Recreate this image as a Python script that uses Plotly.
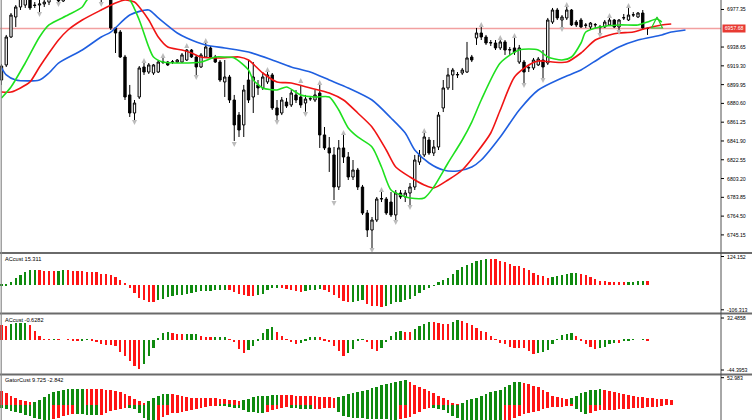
import plotly.graph_objects as go

# ---------------- data ----------------
bar_open = [6904.7,6920.2,6949.0,6969.6,6979.9,6981.9,6992.3,6981.9,6981.9,6983.0,
            6985.0,6992.3,6989.2,6986.1,6993.0,7000.0,7006.0,7003.0,7008.0,7004.0,
            6995.0,6989.2,6995.0,6990.2,6958.3,6954.1,6928.4,6889.3,6870.7,6887.2,
            6918.1,6912.9,6911.9,6912.9,6923.2,6923.2,6923.0,6923.2,6923.2,6925.3,
            6935.6,6928.4,6918.1,6928.4,6937.7,6928.4,6923.2,6902.7,6907.8,6884.1,
            6868.6,6858.4,6904.7,6887.2,6899.6,6896.5,6902.7,6909.9,6875.9,6870.7,
            6882.0,6879.0,6889.3,6887.2,6881.0,6885.1,6884.1,6891.3,6848.1,6834.7,
            6827.5,6794.5,6834.7,6825.4,6804.8,6812.0,6794.5,6767.7,6750.2,6760.5,
            6782.1,6782.1,6779.0,6765.7,6788.3,6784.2,6788.3,6794.5,6820.2,6827.5,
            6842.9,6829.5,6835.7,6875.9,6896.5,6909.9,6909.9,6911.9,6912.9,6928.4,
            6948.0,6953.1,6949.0,6942.8,6942.8,6937.7,6943.9,6935.6,6937.7,6923.2,
            6923.2,6917.1,6917.1,6920.2,6925.3,6922.2,6964.4,6976.8,6966.5,6968.6,
            6976.8,6964.4,6966.5,6961.4,6959.3,6961.4,6959.3,6959.3,6961.4,6966.5,
            6959.3,6968.6,6966.5,6971.6,6969.6,6973.7,6958.0]
bar_high = [6921.2,6951.1,6973.7,6981.9,6997.4,6997.4,6997.4,6985.0,6987.1,6992.3,
            6997.4,6999.5,6995.3,6997.4,7005.0,7010.0,7012.0,7010.0,7014.0,7008.0,
            7000.0,6998.0,7001.0,6995.3,6959.3,6956.2,6930.5,6899.6,6884.1,6919.1,
            6922.2,6922.2,6921.2,6925.3,6927.4,6924.3,6925.3,6926.3,6932.5,6936.6,
            6936.6,6930.5,6932.5,6942.8,6939.7,6930.5,6925.3,6925.3,6909.9,6889.3,
            6871.7,6899.6,6925.3,6923.2,6904.7,6912.9,6912.9,6911.9,6884.1,6887.2,
            6886.2,6894.4,6894.4,6899.6,6889.3,6888.2,6894.4,6899.6,6856.3,6846.0,
            6835.7,6842.9,6848.1,6830.5,6822.3,6814.1,6796.6,6770.8,6763.6,6784.2,
            6789.3,6784.2,6789.3,6791.4,6791.4,6791.4,6798.6,6827.5,6832.6,6851.2,
            6846.0,6842.9,6871.7,6904.7,6917.1,6917.1,6912.9,6917.1,6943.9,6930.5,
            6958.3,6959.3,6951.1,6945.9,6945.9,6945.9,6945.9,6938.7,6948.0,6940.8,
            6925.3,6920.2,6927.4,6928.4,6935.6,6968.6,6978.9,6978.9,6971.6,6981.0,
            6977.8,6966.5,6968.6,6963.4,6964.4,6963.4,6961.4,6966.5,6969.6,6967.5,
            6967.5,6972.7,6978.9,6974.7,6974.7,6976.8,6958.6]
bar_low = [6899.6,6918.1,6948.0,6959.3,6976.8,6978.9,6976.8,6978.9,6974.7,6979.9,
           6981.9,6987.1,6985.0,6985.0,6990.0,6995.0,7000.0,6998.0,7000.0,6992.0,
           6988.0,6984.0,6988.5,6956.2,6932.5,6927.4,6884.1,6866.6,6863.5,6885.1,
           6909.9,6910.9,6909.9,6911.9,6921.2,6919.1,6921.2,6922.2,6922.2,6924.3,
           6927.4,6908.8,6917.1,6927.4,6927.4,6922.2,6902.7,6887.2,6881.0,6841.9,
           6846.0,6846.0,6881.0,6870.7,6889.3,6894.4,6900.6,6873.8,6863.5,6868.6,
           6875.9,6876.9,6881.0,6876.0,6872.0,6883.1,6882.0,6834.7,6832.6,6810.0,
           6781.1,6791.4,6819.2,6801.7,6801.7,6791.4,6765.7,6743.0,6729.6,6758.4,
           6779.0,6765.7,6763.6,6760.5,6782.1,6779.0,6775.9,6791.4,6817.2,6825.4,
           6827.5,6826.4,6832.6,6871.7,6894.4,6894.4,6906.8,6909.9,6911.9,6923.2,
           6940.8,6945.9,6940.8,6939.7,6935.6,6935.6,6930.5,6930.5,6930.5,6921.2,
           6901.6,6912.9,6915.0,6919.1,6904.7,6920.2,6962.4,6966.5,6958.3,6966.5,
           6960.3,6959.3,6958.3,6958.3,6957.2,6958.3,6953.1,6958.3,6960.3,6958.3,
           6956.2,6966.5,6965.5,6969.6,6968.6,6956.2,6951.1]
bar_close = [6919.1,6949.0,6971.6,6979.9,6990.2,6992.3,6978.9,6981.5,6983.0,6985.0,
             6992.3,6989.2,6986.1,6993.3,7000.0,7006.0,7003.0,7008.0,7004.0,6995.0,
             6990.0,6995.0,6991.0,6958.3,6953.1,6928.4,6887.2,6870.7,6881.0,6917.1,
             6912.9,6920.2,6920.2,6923.2,6923.0,6920.2,6923.4,6925.3,6930.5,6935.6,
             6928.4,6918.1,6930.5,6938.7,6928.4,6923.2,6904.7,6907.8,6884.1,6858.4,
             6853.2,6894.4,6884.1,6907.8,6896.5,6907.8,6909.9,6875.9,6868.6,6884.1,
             6877.9,6891.3,6884.1,6879.0,6885.1,6885.5,6889.3,6848.1,6834.7,6829.5,
             6794.5,6834.7,6825.4,6804.8,6812.0,6794.5,6767.7,6750.2,6760.5,6782.1,
             6782.5,6767.7,6765.7,6788.3,6784.2,6788.3,6794.5,6822.3,6827.5,6846.0,
             6829.5,6835.7,6868.6,6896.5,6909.9,6915.0,6910.3,6915.0,6927.4,6925.3,
             6953.1,6949.0,6942.8,6943.2,6937.7,6943.9,6935.6,6936.0,6933.5,6937.7,
             6912.9,6917.5,6925.3,6926.3,6918.1,6966.5,6976.8,6968.6,6969.6,6976.8,
             6961.4,6961.4,6959.3,6961.0,6963.4,6961.8,6959.0,6964.4,6966.5,6959.3,
             6966.5,6968.9,6971.6,6971.9,6973.7,6958.3,6957.68]

jaw_bar = [0,1,3,8,10,12,17,21,23,27,31,33,37,39,43,47,52,57,61,65,69,73,78,82,85,87,90,93,96,99,101,105,109,113,118,122,126,130,134,139,141,144]
jaw_val = [6917.1,6909.9,6904.7,6904.7,6911.9,6922.2,6935.6,6949.0,6954.1,6971.6,6976.8,6968.6,6953.1,6948.0,6940.8,6937.7,6933.5,6925.3,6918.1,6912.9,6904.7,6896.5,6884.1,6865.6,6850.1,6832.6,6819.2,6812.0,6811.0,6815.1,6822.3,6846.0,6873.8,6894.4,6906.8,6915.0,6927.4,6938.7,6945.9,6951.1,6954.1,6956.2]
teeth_bar = [0,2,4,6,8,10,12,14,17,21,24,26,28,29,31,33,35,38,40,42,46,50,52,55,58,61,65,69,72,75,78,81,83,86,89,91,94,97,100,103,105,108,111,113,116,119,122,125,128,130,133,136,139,141]
teeth_val = [6892.3,6892.3,6896.5,6902.7,6918.1,6932.5,6945.9,6956.2,6966.5,6976.8,6984.0,6987.1,6985.0,6979.9,6966.5,6949.0,6938.7,6935.6,6932.5,6928.4,6927.4,6928.4,6925.3,6911.9,6902.7,6901.6,6896.5,6891.3,6884.1,6870.7,6856.3,6832.6,6815.1,6804.8,6796.6,6793.5,6801.7,6812.0,6829.5,6850.1,6873.8,6907.8,6920.2,6924.3,6923.2,6923.2,6932.5,6945.9,6951.1,6953.1,6954.1,6958.3,6961.4,6962.4]
lips_bar = [0,2,5,8,10,14,17,18,21,24,27,29,31,32,34,38,42,45,47,49,52,53,55,58,60,63,66,69,71,73,75,78,80,82,84,86,89,91,94,97,99,101,105,109,113,115,118,120,122,123,126,130,134,136,138,139]
lips_val = [6886.2,6897.5,6922.2,6949.0,6961.4,6971.6,6979.9,6987.1,6997.4,6997.4,6987.1,6966.5,6938.7,6928.4,6923.2,6922.2,6923.2,6928.4,6928.4,6927.4,6915.0,6904.7,6896.5,6894.4,6897.5,6889.3,6887.2,6887.2,6873.8,6855.3,6846.0,6835.7,6815.1,6791.4,6786.3,6783.2,6783.2,6794.5,6819.2,6842.9,6861.4,6884.1,6922.2,6935.6,6935.6,6928.4,6925.3,6928.4,6942.8,6954.1,6959.3,6961.4,6961.4,6964.4,6967.5,6964.4]

frac_up_bar = [30,34,39,43,56,63,67,72,80,89,101,105,108,119,128,132]
frac_up_val = [6927.4,6932.5,6942.8,6948.0,6918.1,6906.8,6904.7,6853.2,6794.5,6855.3,6964.4,6951.1,6953.1,6985.0,6973.7,6984.0]
frac_dn_bar = [8,12,21,28,41,49,58,64,70,78,83,86,110,114,118,126,130]
frac_dn_val = [6969.6,6979.9,6979.9,6858.4,6904.7,6835.7,6858.4,6866.6,6774.9,6726.5,6755.4,6770.8,6896.5,6901.6,6954.1,6948.0,6951.1]
signal_bar = [138]
signal_val = [6969.6]

current_price = 6957.68
price_ticks = [6977.35,6938.65,6919.30,6899.95,6880.60,6861.25,6841.90,6822.55,6803.20,6783.85,6764.50,6745.15]

ao_val = [1.4,5.3,13.2,29.2,42.4,51.7,59.6,61.0,59.6,58.3,57.7,57.0,58.3,59.6,59.0,58.3,55.6,55.0,54.4,53.7,
          51.7,46.4,43.8,41.1,33.1,19.9,9.3,-10.6,-30.5,-50.3,-59.6,-66.3,-66.9,-59.6,-53.0,-47.7,-43.8,-39.8,-37.1,-34.5,
          -30.5,-27.8,-23.9,-21.8,-21.3,-20.6,-19.9,-19.2,-19.9,-26.5,-34.5,-39.8,-43.8,-44.4,-39.8,-33.1,-19.9,-11.9,-10.6,-11.9,
          -13.2,-19.9,-23.9,-26.5,-22.5,-19.9,-17.2,-16.6,-19.9,-26.5,-37.1,-50.3,-61.0,-66.3,-64.9,-63.7,-59.6,-72.9,-80.9,-83.5,
          -86.2,-80.9,-72.9,-67.6,-64.9,-59.6,-54.4,-43.8,-30.5,-19.9,-10.6,-1.5,11.9,19.9,29.2,46.4,62.3,72.9,82.2,88.8,
          95.4,102.0,104.7,104.3,103.4,95.4,91.5,86.2,78.2,75.5,68.9,59.6,49.1,42.4,35.7,29.2,33.1,38.4,42.4,46.4,
          49.1,49.7,45.0,39.8,33.1,25.2,18.5,15.9,14.6,14.2,13.2,12.9,13.2,13.9,15.1,16.3,15.311]
ao_dir = ("GGGGGGGG" "RRRR" "GG" "RRRRRRRRRRRRRRRRRRR" "GGGGGGGGGGGGGGG" "RRRRRR" "GGGGG" "RRRRR"
          "GGGG" "RRRRRR" "GGG" "RRRR" "GGGGGGGGGGGGGGGGGGGGGG" "RRRRRRRRRRRRR" "GGGGGG" "RRRRRRRRRR" "GGGG" "R")

ac_val = [18.9,18.0,21.1,21.4,21.6,21.8,19.8,12.1,5.4,0.4,-0.2,0.1,-0.1,0.0,-0.3,-0.4,-0.7,-0.4,-0.35,-2.2,
          -3.6,-5.0,-6.7,-7.2,-8.1,-16.2,-21.6,-28.3,-35.1,-38.7,-31.5,-21.6,-10.3,1.8,9.0,9.9,8.5,7.2,7.0,7.4,
          7.6,7.7,4.5,3.6,3.4,3.6,3.7,3.8,0.9,-3.6,-11.7,-17.1,-13.5,-8.1,-1.3,9.0,14.4,16.6,10.8,5.4,
          -0.2,-3.6,-5.8,-4.5,-1.3,3.1,4.0,3.1,-1.3,-3.6,-8.1,-14.8,-21.6,-17.1,-11.7,-2.2,0.4,-3.6,-11.7,-14.8,
          -10.3,-2.7,4.5,10.8,12.1,10.8,9.9,13.5,18.0,21.1,23.4,22.9,22.5,21.1,20.9,23.4,25.6,24.7,22.5,18.9,
          15.3,12.1,9.9,5.4,0.9,-4.5,-5.8,-9.0,-10.3,-10.6,-10.8,-14.8,-18.4,-17.5,-16.2,-13.5,-5.8,0.9,6.3,7.6,
          9.0,4.5,-2.2,-5.8,-9.0,-11.7,-10.3,-9.0,-5.8,-4.5,-4.9,-1.3,-0.4,-0.2,0.0,0.9,-0.6282]
ac_dir = ("RR" "GGGG" "RRRRR" "G" "R" "G" "RRR" "GG" "RRRRRRRRRRR" "GGGGGG" "RRR" "GGG" "RRR" "GGG" "RRRR"
          "GGGGGG" "RRRRR" "GGGG" "RRRRRR" "GGGG" "RRR" "GGGGG" "RR" "GGGG" "RRRR" "GG" "RRRRRRRRRRRRRRRR"
          "GGGGGGGG" "RRRRR" "GGGG" "R" "GGGGG" "R")

gator_upper = [24.7,21,17,13,9,6.2,5.0,5.2,9,15,
               20.6,23,25,27,28.2,28.8,29.2,29.4,29.3,29.0,
               28.8,28.3,27.6,26.5,25.2,23.7,20,15.5,11.3,6.5,
               2.1,7,12.4,16,19,20.6,20,18.5,16.5,15,
               13.4,12.5,12.2,12,11.9,11.8,11,10,9,8,
               7.2,8.5,11,13.5,15.5,16.5,17,17.5,17.8,17.7,
               17.5,17.2,17,16.8,16.6,16.5,15.5,14.5,13.8,13.5,
               13.4,14.5,16.5,19,21,22.7,25,27.5,30,33,
               36,38.5,40.5,42.5,44.3,45.3,42,37,32,29,
               25.8,21,16.5,12.4,8,4,0.8,4,8.2,11,
               13.4,16.5,19.8,22.7,25.5,27.8,32,37,41.2,41.5,
               40,37.5,35,32,28,24,17,14,12,11.5,
               13,17,21,24,26.5,28,28.5,27,25,23,
               21,19,17.5,16,15,14,13,12.2,11.4,10.8,
               10.2,9.725]
gator_lower = [6.2,8.5,11,13.5,16,18.5,21,23.5,26,28,
               28.8,27,24,20.5,18,16.5,16.8,17.5,18.5,19.2,
               19.6,18,15,12,9,7.2,6.0,6.3,7.2,15,
               23.7,29,33,28,22,18,16,14.5,13,11.5,
               10.3,8.5,6.5,4.5,2.5,0.5,1.5,2.5,3.5,5,
               6.2,9,12.4,14,15,15.5,13,10,7.5,5.5,
               4.1,5,6,7,7.8,8.2,7.8,7.2,6.8,6.5,
               6.2,13,20.6,22.5,24,24.7,25,25.3,25.5,25.7,
               25.8,26.8,28,28.8,26.5,24,21.6,17,12.5,8.5,
               5.2,6.5,8.5,10.3,15,20,24.7,29,34,39,
               43,45,46.3,47,47.6,48,40,32,24.7,20,
               16.5,14.5,12.8,11.3,8.5,6,4.1,3.6,3.3,3.1,
               3.1,8,12.5,16.5,14.5,12,10.3,9.8,9.2,8.7,
               8.2,7.6,7.0,6.4,5.8,5.2,4.6,4.0,3.4,2.842]

# ---------------- layout geometry ----------------
W, H = 752, 420
AXIS_X = 721
STEP = 4.75
X0 = 1.5
GREEN = '#0f8a0f'
RED = '#ff1414'

def py(px):  # pixel row -> paper y
    return 1 - px / H

FONT = 'Liberation Sans, Arial, sans-serif'
fs_axis = 5.2
fs_lbl = 5.6

fig = go.Figure()

fig.add_trace(go.Candlestick(
    x=list(range(len(bar_open))), open=bar_open, high=bar_high, low=bar_low, close=bar_close,
    increasing=dict(line=dict(color='black', width=1), fillcolor='white'),
    decreasing=dict(line=dict(color='black', width=1), fillcolor='black'),
    whiskerwidth=0, xaxis='x', yaxis='y', hoverinfo='skip'))

for bx, bv, col in [(jaw_bar, jaw_val, '#1f5fe0'), (teeth_bar, teeth_val, '#f01414'), (lips_bar, lips_val, '#1fe01f')]:
    fig.add_trace(go.Scatter(x=bx, y=bv, mode='lines', xaxis='x', yaxis='y',
                             line=dict(color=col, width=1.6, shape='spline', smoothing=0.7), hoverinfo='skip'))

fig.add_trace(go.Scatter(x=frac_up_bar, y=frac_up_val, mode='markers', xaxis='x', yaxis='y',
                         marker=dict(symbol='arrow-up', size=5, color='#bcbcbc'), hoverinfo='skip'))
fig.add_trace(go.Scatter(x=frac_dn_bar, y=frac_dn_val, mode='markers', xaxis='x', yaxis='y',
                         marker=dict(symbol='arrow-down', size=5, color='#bcbcbc'), hoverinfo='skip'))
fig.add_trace(go.Scatter(x=signal_bar, y=signal_val, mode='markers', xaxis='x', yaxis='y',
                         marker=dict(symbol='arrow-up-open', size=11, color='#22cc22', line=dict(width=1.2, color='#22cc22')),
                         hoverinfo='skip'))

ao_x = list(range(len(ao_val)))
fig.add_trace(go.Bar(x=ao_x, y=ao_val, width=0.5, xaxis='x', yaxis='y2',
                     marker=dict(color=[GREEN if d == 'G' else RED for d in ao_dir], line=dict(width=0)), hoverinfo='skip'))
ac_x = list(range(len(ac_val)))
fig.add_trace(go.Bar(x=ac_x, y=ac_val, width=0.5, xaxis='x', yaxis='y3',
                     marker=dict(color=[GREEN if d == 'G' else RED for d in ac_dir], line=dict(width=0)), hoverinfo='skip'))

gu_col = [RED] + [GREEN if gator_upper[i] > gator_upper[i - 1] else RED for i in range(1, len(gator_upper))]
gl_col = [GREEN] + [GREEN if gator_lower[i] > gator_lower[i - 1] else RED for i in range(1, len(gator_lower))]
fig.add_trace(go.Bar(x=list(range(len(gator_upper))), y=gator_upper, width=0.6, xaxis='x', yaxis='y4',
                     marker=dict(color=gu_col, line=dict(width=0)), hoverinfo='skip'))
fig.add_trace(go.Bar(x=list(range(len(gator_lower))), y=[-v for v in gator_lower], width=0.6, xaxis='x', yaxis='y4',
                     marker=dict(color=gl_col, line=dict(width=0)), hoverinfo='skip'))

xr = [-X0 / STEP, (AXIS_X - X0) / STEP]
main_top = 6987.1
main_bot = main_top - 1.03 * 252

shapes = []
shapes.append(dict(type='line', xref='paper', yref='y', x0=0, x1=AXIS_X / W, y0=current_price, y1=current_price,
                   line=dict(color='#f2a0a0', width=1.5), layer='below'))
for sp in [253, 313.5, 374.5]:
    shapes.append(dict(type='line', xref='paper', yref='paper', x0=0, x1=1, y0=py(sp), y1=py(sp),
                       line=dict(color='#6a6a6a', width=2)))
shapes.append(dict(type='line', xref='paper', yref='paper', x0=AXIS_X / W, x1=AXIS_X / W, y0=0, y1=1,
                   line=dict(color='#505050', width=1)))
shapes.append(dict(type='line', xref='paper', yref='paper', x0=1.2 / W, x1=1.2 / W, y0=0, y1=1,
                   line=dict(color='#8a8a8a', width=1.2)))

annotations = []
def rlabel(text, y, yref='paper', tick=True):
    annotations.append(dict(x=(AXIS_X + 4) / W, y=y, xref='paper', yref=yref, text=text, showarrow=False,
                            xanchor='left', yanchor='middle', font=dict(family=FONT, size=fs_axis, color='black')))
    if tick:
        shapes.append(dict(type='line', xref='paper', yref=yref, x0=AXIS_X / W, x1=(AXIS_X + 3) / W,
                           y0=y, y1=y, line=dict(color='black', width=1)))

for v in price_ticks:
    rlabel('%.2f' % v, v, yref='y')
rlabel('124.152', py(256.5))
rlabel('-106.313', py(309.8))
rlabel('32.4858', py(318))
rlabel('-44.3953', py(370))
rlabel('52.983', py(377.7))

annotations.append(dict(x=(AXIS_X + 1) / W, y=current_price, xref='paper', yref='y', text=' 6957.68 ', showarrow=False,
                        xanchor='left', yanchor='middle', bgcolor='#e83a32', borderpad=0.3,
                        font=dict(family=FONT, size=fs_axis, color='white')))

for txt, ypx in [('ACcust 15.311', 258.5), ('ACcust -0.6282', 319.5), ('GatorCust 9.725 -2.842', 380)]:
    annotations.append(dict(x=3 / W, y=py(ypx), xref='paper', yref='paper', text=txt, showarrow=False,
                            xanchor='left', yanchor='middle', font=dict(family=FONT, size=fs_lbl, color='black')))

hidden = dict(showticklabels=False, showgrid=False, zeroline=False, ticks='', showline=False, anchor='x', fixedrange=True)

fig.update_layout(
    width=W, height=H, margin=dict(l=0, r=0, t=0, b=0),
    paper_bgcolor='white', plot_bgcolor='white', showlegend=False, barmode='overlay', bargap=0,
    xaxis=dict(domain=[0, AXIS_X / W], range=xr, visible=False, rangeslider=dict(visible=False), fixedrange=True),
    yaxis=dict(domain=[py(252), 1], range=[main_bot, main_top], **hidden),
    yaxis2=dict(domain=[py(312), py(254)], range=[-106.313, 124.152], **hidden),
    yaxis3=dict(domain=[py(373.5), py(315)], range=[-44.3953, 32.4858], **hidden),
    yaxis4=dict(domain=[0, py(375.5)], range=[-28.9, 52.983], **hidden),
    shapes=shapes, annotations=annotations,
)

fig.write_html('out.html', include_plotlyjs=True, config={'displayModeBar': False},
               post_script="document.body.style.margin='0';document.body.style.overflow='hidden';")
